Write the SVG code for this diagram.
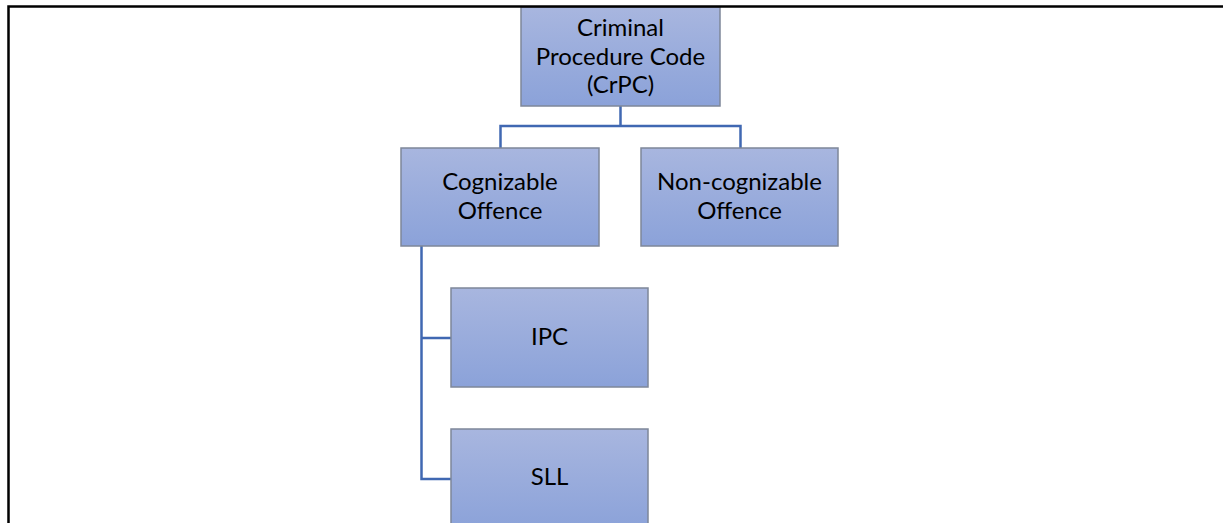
<svg xmlns="http://www.w3.org/2000/svg" width="1223" height="523" viewBox="0 0 1223 523">
<defs>
<linearGradient id="g" x1="0" y1="0" x2="0" y2="1">
<stop offset="0" stop-color="#A8B6DF"/>
<stop offset="1" stop-color="#8BA2D9"/>
</linearGradient>
<style>
.box{fill:url(#g);stroke:#7E8799;stroke-width:1.5}
.t{font-family:Lato,"Liberation Sans",sans-serif;font-size:24px;fill:#000;text-anchor:middle}
.c{fill:none;stroke:#4068B2;stroke-width:2.5}
</style>
</defs>
<rect width="1223" height="523" fill="#fff"/>
<g id="connectors">
<path class="c" d="M620.5,106 V126 M500.5,148 V126 H740.5 V148"/>
<path class="c" d="M421.5,246 V479 H451 M421.5,338 H451"/>
</g>
<g id="crpc">
<rect class="box" x="521" y="7" width="199" height="99"/>
<text class="t" x="620.5" y="36">Criminal</text>
<text class="t" x="620.5" y="64.5">Procedure Code</text>
<text class="t" x="620.5" y="93">(CrPC)</text>
</g>
<g id="cognizable">
<rect class="box" x="401" y="148" width="198" height="98"/>
<text class="t" x="500" y="190">Cognizable</text>
<text class="t" x="500" y="219">Offence</text>
</g>
<g id="noncognizable">
<rect class="box" x="641" y="148" width="197" height="98"/>
<text class="t" x="739.5" y="190">Non-cognizable</text>
<text class="t" x="739.5" y="219">Offence</text>
</g>
<g id="ipc">
<rect class="box" x="451" y="288" width="197" height="99"/>
<text class="t" x="549.5" y="345">IPC</text>
</g>
<g id="sll">
<rect class="box" x="451" y="429" width="197" height="100"/>
<text class="t" x="549.5" y="485">SLL</text>
</g>
<g id="frame">
<path d="M8.5,523 V6.5 H1223" fill="none" stroke="#000" stroke-width="2.5"/>
</g>
</svg>
